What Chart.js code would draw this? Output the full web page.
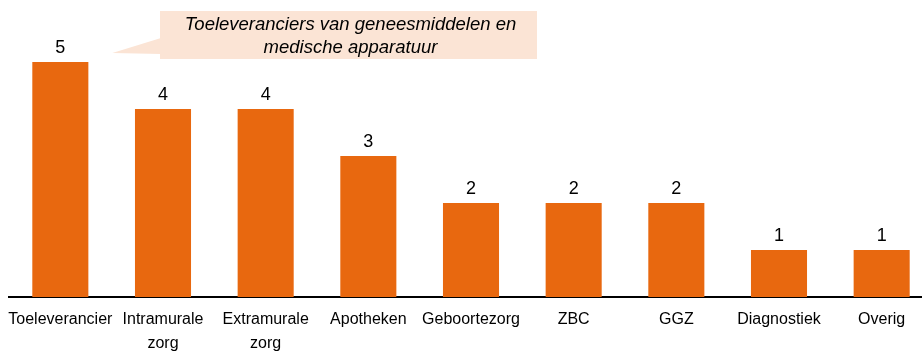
<!DOCTYPE html>
<html>
<head>
<meta charset="utf-8">
<script src="https://cdn.jsdelivr.net/npm/chart.js@4/dist/chart.umd.min.js"></script>
<style>
  html, body { margin: 0; padding: 0; background: #fff; overflow: hidden; }
  #wrap { width: 922px; height: 351px; overflow: hidden; }
</style>
</head>
<body>
<div id="wrap"><canvas id="chart" width="933" height="351"></canvas></div>
<script>
  // --- Data ---
  const categories = [
    'Toeleverancier',
    ['Intramurale', 'zorg'],
    ['Extramurale', 'zorg'],
    'Apotheken',
    'Geboortezorg',
    'ZBC',
    'GGZ',
    'Diagnostiek',
    'Overig'
  ];
  const counts = [5, 4, 4, 3, 2, 2, 2, 1, 1];
  const calloutLines = ['Toeleveranciers van geneesmiddelen en', 'medische apparatuur'];

  const FONT = '"Liberation Sans", Arial, sans-serif';
  const BAR_COLOR = '#E8680F';

  // Value labels above each bar
  const valueLabels = {
    id: 'valueLabels',
    afterDatasetsDraw(chart) {
      const ctx = chart.ctx;
      const meta = chart.getDatasetMeta(0);
      ctx.save();
      ctx.font = '18px ' + FONT;
      ctx.fillStyle = '#000';
      ctx.textAlign = 'center';
      ctx.textBaseline = 'alphabetic';
      meta.data.forEach((bar, i) => {
        ctx.fillText(String(counts[i]), bar.x, bar.y - 9);
      });
      ctx.restore();
    }
  };

  // Speech-bubble note pointing at the first bar
  const callout = {
    id: 'callout',
    afterDraw(chart) {
      const ctx = chart.ctx;
      const bar = chart.getDatasetMeta(0).data[0];
      const box = { x: 160, y: 11, w: 377, h: 48 };
      ctx.save();
      ctx.fillStyle = '#FBE4D5';
      ctx.fillRect(box.x, box.y, box.w, box.h);
      // pointer
      ctx.beginPath();
      ctx.moveTo(box.x + 1, box.y + 27);
      ctx.lineTo(bar.x + 52, bar.y - 9);
      ctx.lineTo(box.x + 1, box.y + 43);
      ctx.closePath();
      ctx.fill();
      ctx.font = 'italic 18.5px ' + FONT;
      ctx.fillStyle = '#000';
      ctx.textAlign = 'center';
      ctx.textBaseline = 'middle';
      const cx = box.x + box.w / 2 + 2;
      ctx.fillText(calloutLines[0], cx, box.y + 14);
      ctx.fillText(calloutLines[1], cx, box.y + 37);
      ctx.restore();
    }
  };

  new Chart(document.getElementById('chart'), {
    type: 'bar',
    data: {
      labels: categories,
      datasets: [{
        data: counts,
        backgroundColor: BAR_COLOR,
        borderWidth: 0,
        barPercentage: 0.546,
        categoryPercentage: 1
      }]
    },
    options: {
      responsive: false,
      animation: false,
      layout: { padding: { top: 15, left: 9, right: 0, bottom: 0 } },
      plugins: {
        legend: { display: false },
        tooltip: { enabled: false }
      },
      scales: {
        x: {
          grid: { display: false },
          border: { display: true, color: '#000', width: 2 },
          ticks: {
            color: '#000',
            font: { family: FONT, size: 16, lineHeight: 1.5 },
            maxRotation: 0,
            autoSkip: false,
            padding: 3
          },
          afterFit(scale) { scale.height = 54; }
        },
        y: {
          display: false,
          min: 0,
          max: 6
        }
      }
    },
    plugins: [valueLabels, callout]
  });
</script>
</body>
</html>
